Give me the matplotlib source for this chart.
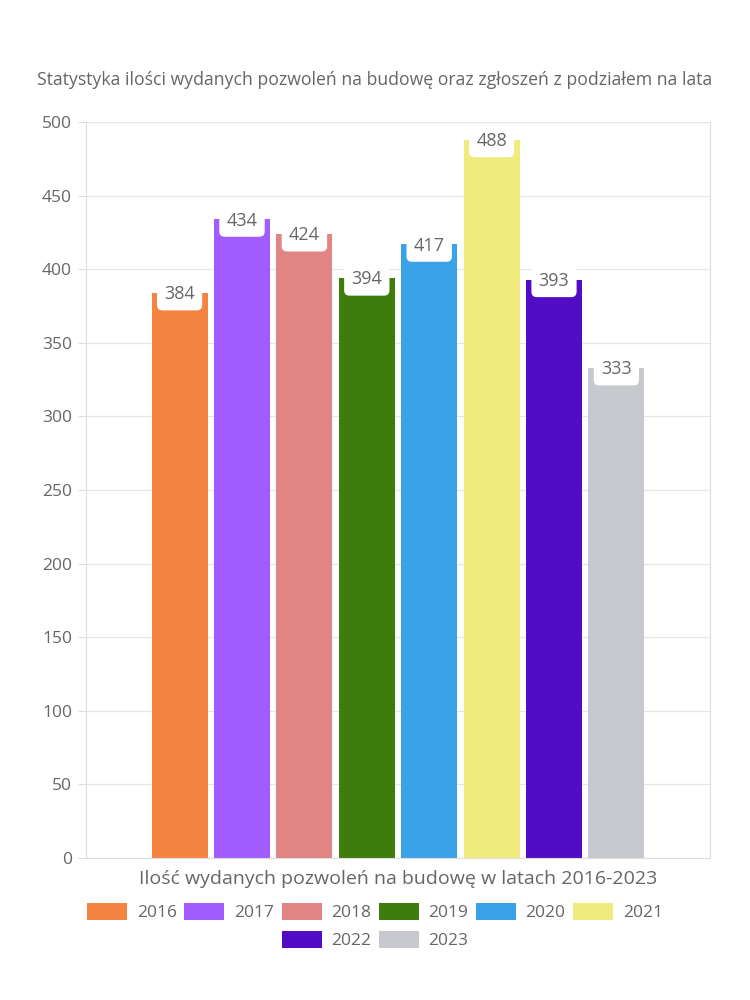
from matplotlib import pyplot as plt
from matplotlib.patches import Patch

lata = ['2016', '2017', '2018', '2019', '2020', '2021', '2022', '2023']
pozwolenia = [384, 434, 424, 394, 417, 488, 393, 333]
kolory = ['#F58442', '#A05CFF', '#E08484', '#3E7D0C',
          '#3AA2E8', '#F0EB7D', '#510CC4', '#C8C9CE']
y_ticks = [0, 50, 100, 150, 200, 250, 300, 350, 400, 450, 500]

tytul = 'Statystyka ilości wydanych pozwoleń na budowę oraz zgłoszeń z podziałem na lata'
opis_x = 'Ilość wydanych pozwoleń na budowę w latach 2016-2023'

plt.rcParams['font.family'] = ['Open Sans', 'DejaVu Sans']
szary = '#666666'

fig = plt.figure(figsize=(7.5, 10), dpi=100)
ax = fig.add_axes([86 / 750, 1 - 858 / 1000, 624 / 750, 736 / 1000])

n = len(lata)
slot = 0.8 / n
for i, (rok, v, c) in enumerate(zip(lata, pozwolenia, kolory)):
    x = (i - (n - 1) / 2) * slot
    ax.bar(x, v, width=slot * 0.9, color=c, zorder=2)
    ax.annotate(str(v), (x, v), xytext=(0, -1), textcoords='offset points',
                ha='center', va='center', fontsize=13, color=szary, zorder=3,
                bbox=dict(boxstyle='round,pad=0.4,rounding_size=0.3',
                          fc='white', ec='none'))

ax.set_xlim(-0.5, 0.5)
ax.set_ylim(0, 500)
ax.set_yticks(y_ticks)
ax.set_xticks([])
ax.tick_params(axis='y', length=6, color='#dddddd', labelsize=12.5,
               labelcolor=szary, pad=4)
ax.grid(axis='y', color='#e6e6e6', linewidth=0.9, zorder=0)
for s in ax.spines.values():
    s.set_color('#dddddd')
ax.spines['top'].set_visible(False)

fig.text(0.5, 0.92, tytul, ha='center', va='center', fontsize=12.7, color=szary)
fig.text(0.531, 0.121, opis_x, ha='center', va='center', fontsize=14, color=szary)

uchwyty = [Patch(facecolor=c, edgecolor='none') for c in kolory]
leg_opts = dict(frameon=False, fontsize=12.5, labelcolor=szary,
                handlelength=2.3, handleheight=1.15, handletextpad=0.55,
                columnspacing=0.45, borderaxespad=0)
fig.legend(uchwyty[:6], lata[:6], ncol=6, loc='center',
           bbox_to_anchor=(0.5, 1 - 912 / 1000), **leg_opts)
fig.legend(uchwyty[6:], lata[6:], ncol=2, loc='center',
           bbox_to_anchor=(0.5, 1 - 940 / 1000), **leg_opts)

plt.savefig('out.png', dpi=100)
